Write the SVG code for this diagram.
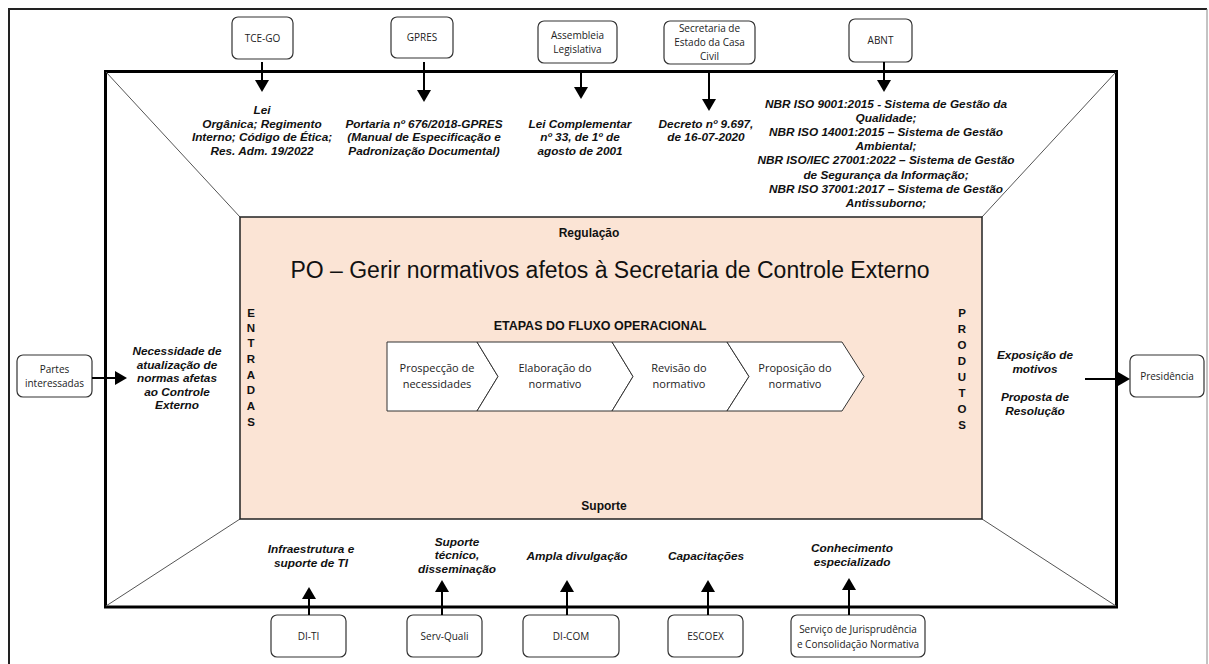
<svg xmlns="http://www.w3.org/2000/svg" width="1209" height="664" viewBox="0 0 1209 664">
<style>
.box{fill:#fff;stroke:#333;stroke-width:1.2}
.bt{font-family:"Open Sans","Liberation Sans",sans-serif;font-size:10px;fill:#222;text-anchor:middle}
.it{font-family:"Liberation Sans",Arial,sans-serif;font-size:11.8px;font-weight:bold;font-style:italic;fill:#111;text-anchor:middle}
.lb{font-family:"Liberation Sans",Arial,sans-serif;font-weight:bold;fill:#111;text-anchor:middle}
.ch{fill:#fff;stroke:#333;stroke-width:1}
.ct{font-family:"Open Sans","Liberation Sans",sans-serif;font-size:11px;fill:#222;text-anchor:middle}
.diag{stroke:#555;stroke-width:1;fill:none}
.arr{stroke:#000;stroke-width:2;fill:none;marker-end:url(#ah)}
</style>
<defs>
<marker id="ah" markerUnits="userSpaceOnUse" markerWidth="14" markerHeight="14" refX="10" refY="7" orient="auto">
<path d="M0,0 L12,7 L0,14 z" fill="#000"/>
</marker>
</defs>
<rect width="1209" height="664" fill="#fff"/>
<g id="frame">
<line x1="9" y1="9" x2="1207" y2="9" stroke="#222" stroke-width="2"/>
<line x1="9" y1="8" x2="9" y2="664" stroke="#222" stroke-width="2"/>
<line x1="1207" y1="9" x2="1207" y2="664" stroke="#888" stroke-width="1"/>
<rect x="105.5" y="71.5" width="1011" height="535.5" fill="#fff" stroke="#000" stroke-width="3"/>
<line class="diag" x1="106" y1="72" x2="240" y2="217"/>
<line class="diag" x1="1116" y1="72" x2="982" y2="217"/>
<line class="diag" x1="106" y1="606" x2="240" y2="519"/>
<line class="diag" x1="1116" y1="606" x2="982" y2="519"/>
<rect x="240" y="217" width="742" height="302" fill="#FBE4D5" stroke="#222" stroke-width="1.5"/>
</g>
<g id="center">
<text class="lb" x="589" y="237" font-size="12px">Regulação</text>
<text x="610" y="278" font-family="Liberation Sans, Arial, sans-serif" font-size="23px" text-anchor="middle" fill="#111">PO – Gerir normativos afetos à Secretaria de Controle Externo</text>
<text class="lb" x="600" y="330" font-size="12.5px">ETAPAS DO FLUXO OPERACIONAL</text>
<text class="lb" x="604" y="510" font-size="12px">Suporte</text>
<g font-size="11.5px" class="lb">
<text x="251" y="317">E</text><text x="251" y="332">N</text><text x="251" y="347">T</text><text x="251" y="363">R</text><text x="251" y="379">A</text><text x="251" y="394">D</text><text x="251" y="410">A</text><text x="251" y="426">S</text>
</g>
<g font-size="11.5px" class="lb">
<text x="962" y="317">P</text><text x="962" y="333">R</text><text x="962" y="349">O</text><text x="962" y="365">D</text><text x="962" y="381">U</text><text x="962" y="397">T</text><text x="962" y="413">O</text><text x="962" y="429">S</text>
</g>
</g>
<g id="etapas">
<g id="e1"><polygon class="ch" points="387,342 477,342 498,376.5 477,411 387,411"/>
<text class="ct" x="437" y="372">Prospecção de</text><text class="ct" x="437" y="388">necessidades</text></g>
<g id="e2"><polygon class="ch" points="477,342 612,342 633,376.5 612,411 477,411 498,376.5"/>
<text class="ct" x="555" y="372">Elaboração do</text><text class="ct" x="555" y="388">normativo</text></g>
<g id="e3"><polygon class="ch" points="612,342 727,342 749,376.5 727,411 612,411 633,376.5"/>
<text class="ct" x="679" y="372">Revisão do</text><text class="ct" x="679" y="388">normativo</text></g>
<g id="e4"><polygon class="ch" points="727,342 842,342 864,376.5 842,411 727,411 749,376.5"/>
<text class="ct" x="795" y="372">Proposição do</text><text class="ct" x="795" y="388">normativo</text></g>
</g>
<g id="n-tcego"><rect class="box" x="232" y="17" width="61" height="42" rx="6"/><text class="bt" x="262.5" y="42">TCE-GO</text></g>
<g id="n-gpres"><rect class="box" x="391" y="17" width="62" height="41" rx="6"/><text class="bt" x="422" y="41">GPRES</text></g>
<g id="n-assembleia"><rect class="box" x="538" y="21" width="79" height="42" rx="6"/><text class="bt" x="577.5" y="39">Assembleia</text><text class="bt" x="577.5" y="53">Legislativa</text></g>
<g id="n-casacivil"><rect class="box" x="664" y="21" width="91" height="43" rx="6"/><text class="bt" x="709.5" y="32">Secretaria de</text><text class="bt" x="709.5" y="46">Estado da Casa</text><text class="bt" x="709.5" y="60">Civil</text></g>
<g id="n-abnt"><rect class="box" x="849" y="19" width="63" height="43" rx="6"/><text class="bt" x="880.5" y="44">ABNT</text></g>
<g id="n-partes"><rect class="box" x="17" y="355" width="75" height="42" rx="6"/><text class="bt" x="54.5" y="373">Partes</text><text class="bt" x="54.5" y="387">interessadas</text></g>
<g id="n-presidencia"><rect class="box" x="1130" y="355" width="74" height="42" rx="6"/><text class="bt" x="1167" y="380">Presidência</text></g>
<g id="n-diti"><rect class="box" x="271" y="615" width="75" height="42" rx="6"/><text class="bt" x="308.5" y="640">DI-TI</text></g>
<g id="n-servquali"><rect class="box" x="407" y="615" width="75" height="42" rx="6"/><text class="bt" x="444.5" y="640">Serv-Quali</text></g>
<g id="n-dicom"><rect class="box" x="523" y="615" width="96" height="42" rx="6"/><text class="bt" x="571" y="640">DI-COM</text></g>
<g id="n-escoex"><rect class="box" x="668" y="615" width="75" height="42" rx="6"/><text class="bt" x="705.5" y="640">ESCOEX</text></g>
<g id="n-juris"><rect class="box" x="791" y="615" width="134" height="42" rx="6"/><text class="bt" x="858" y="633">Serviço de Jurisprudência</text><text class="bt" x="858" y="648">e Consolidação Normativa</text></g>
<g id="labels">
<text class="it" x="262" y="114">Lei</text>
<text class="it" x="262" y="127.7">Orgânica; Regimento</text>
<text class="it" x="262" y="141.4">Interno; Código de Ética;</text>
<text class="it" x="262" y="155">Res. Adm. 19/2022</text>
<text class="it" x="424" y="127.5">Portaria nº 676/2018-GPRES</text>
<text class="it" x="424" y="141.2">(Manual de Especificação e</text>
<text class="it" x="424" y="155">Padronização Documental)</text>
<text class="it" x="580" y="127.5">Lei Complementar</text>
<text class="it" x="580" y="141.2">nº 33, de 1º de</text>
<text class="it" x="580" y="155">agosto de 2001</text>
<text class="it" x="706" y="127.5">Decreto nº 9.697,</text>
<text class="it" x="706" y="141.2">de 16-07-2020</text>
<text class="it" x="886" y="107.5">NBR ISO 9001:2015 - Sistema de Gestão da</text>
<text class="it" x="886" y="121.7">Qualidade;</text>
<text class="it" x="886" y="135.9">NBR ISO 14001:2015 – Sistema de Gestão</text>
<text class="it" x="886" y="150.1">Ambiental;</text>
<text class="it" x="886" y="164.3">NBR ISO/IEC 27001:2022 – Sistema de Gestão</text>
<text class="it" x="886" y="178.5">de Segurança da Informação;</text>
<text class="it" x="886" y="192.7">NBR ISO 37001:2017 – Sistema de Gestão</text>
<text class="it" x="886" y="206.9">Antissuborno;</text>
<text class="it" x="177" y="355">Necessidade de</text>
<text class="it" x="177" y="368.5">atualização de</text>
<text class="it" x="177" y="382">normas afetas</text>
<text class="it" x="177" y="395.5">ao Controle</text>
<text class="it" x="177" y="409">Externo</text>
<text class="it" x="1035" y="359">Exposição de</text>
<text class="it" x="1035" y="373">motivos</text>
<text class="it" x="1035" y="401">Proposta de</text>
<text class="it" x="1035" y="415">Resolução</text>
<text class="it" x="311" y="553">Infraestrutura e</text>
<text class="it" x="311" y="567">suporte de TI</text>
<text class="it" x="457" y="545.5">Suporte</text>
<text class="it" x="457" y="559">técnico,</text>
<text class="it" x="457" y="572.5">disseminação</text>
<text class="it" x="577" y="560">Ampla divulgação</text>
<text class="it" x="706" y="560">Capacitações</text>
<text class="it" x="852" y="552">Conhecimento</text>
<text class="it" x="852" y="566">especializado</text>
</g>
<g id="connectors">
<line class="arr" x1="262" y1="62" x2="262" y2="90"/>
<line class="arr" x1="424" y1="62" x2="424" y2="100"/>
<line class="arr" x1="581" y1="72" x2="581" y2="97"/>
<line class="arr" x1="709" y1="72" x2="709" y2="109"/>
<line class="arr" x1="884" y1="62" x2="884" y2="90"/>
<line class="arr" x1="92" y1="378" x2="125" y2="378"/>
<line class="arr" x1="1085" y1="379" x2="1128" y2="379"/>
<line class="arr" x1="309" y1="615" x2="309" y2="589"/>
<line class="arr" x1="442" y1="615" x2="442" y2="582"/>
<line class="arr" x1="567" y1="615" x2="567" y2="582"/>
<line class="arr" x1="708" y1="615" x2="708" y2="582"/>
<line class="arr" x1="849" y1="615" x2="849" y2="580"/>
</g>
</svg>
